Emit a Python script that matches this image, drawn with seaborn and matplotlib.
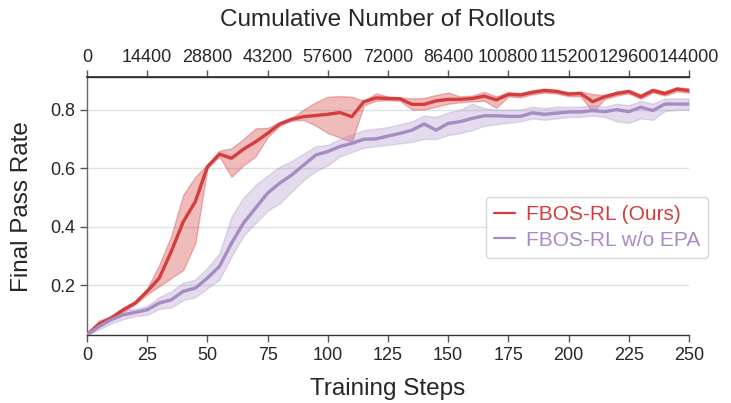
import numpy as np
import pandas as pd
import matplotlib
matplotlib.use("Agg")
import matplotlib.pyplot as plt
import seaborn as sns

steps = list(range(0, 251, 5))

ours_mean = [0.032, 0.069, 0.089, 0.117, 0.140, 0.180, 0.225, 0.316, 0.418, 0.486,
             0.605, 0.648, 0.634, 0.665, 0.690, 0.719, 0.751, 0.767, 0.776, 0.780,
             0.784, 0.790, 0.776, 0.827, 0.840, 0.838, 0.837, 0.818, 0.818, 0.830,
             0.835, 0.835, 0.838, 0.846, 0.833, 0.852, 0.850, 0.859, 0.865, 0.862,
             0.853, 0.855, 0.827, 0.844, 0.855, 0.862, 0.844, 0.865, 0.855, 0.870,
             0.865]
ours_lo = [0.030, 0.060, 0.085, 0.110, 0.135, 0.170, 0.197, 0.225, 0.253, 0.344,
           0.600, 0.640, 0.571, 0.610, 0.640, 0.706, 0.745, 0.762, 0.765, 0.745,
           0.720, 0.705, 0.690, 0.815, 0.830, 0.832, 0.830, 0.800, 0.800, 0.810,
           0.820, 0.825, 0.828, 0.830, 0.806, 0.845, 0.842, 0.852, 0.858, 0.855,
           0.846, 0.845, 0.793, 0.836, 0.848, 0.855, 0.837, 0.858, 0.848, 0.862,
           0.858]
ours_hi = [0.035, 0.080, 0.095, 0.120, 0.145, 0.190, 0.270, 0.370, 0.510, 0.571,
           0.612, 0.660, 0.668, 0.700, 0.736, 0.738, 0.757, 0.772, 0.800, 0.825,
           0.844, 0.846, 0.844, 0.830, 0.855, 0.845, 0.842, 0.838, 0.840, 0.850,
           0.858, 0.845, 0.848, 0.860, 0.845, 0.860, 0.857, 0.866, 0.872, 0.868,
           0.860, 0.862, 0.853, 0.850, 0.862, 0.868, 0.852, 0.872, 0.862, 0.877,
           0.872]

noepa_mean = [0.032, 0.060, 0.083, 0.100, 0.108, 0.117, 0.140, 0.151, 0.180, 0.191,
              0.225, 0.265, 0.344, 0.413, 0.464, 0.515, 0.549, 0.577, 0.611, 0.645,
              0.657, 0.674, 0.685, 0.699, 0.700, 0.710, 0.719, 0.730, 0.751, 0.730,
              0.753, 0.759, 0.770, 0.779, 0.779, 0.777, 0.777, 0.789, 0.784, 0.788,
              0.792, 0.792, 0.797, 0.793, 0.800, 0.793, 0.808, 0.797, 0.819, 0.819,
              0.819]
noepa_lo = [0.030, 0.050, 0.070, 0.085, 0.095, 0.100, 0.120, 0.125, 0.150, 0.160,
            0.190, 0.220, 0.299, 0.370, 0.413, 0.455, 0.480, 0.520, 0.560, 0.590,
            0.610, 0.640, 0.655, 0.670, 0.675, 0.680, 0.685, 0.690, 0.700, 0.700,
            0.713, 0.720, 0.730, 0.745, 0.750, 0.755, 0.760, 0.770, 0.765, 0.770,
            0.775, 0.775, 0.780, 0.775, 0.760, 0.755, 0.770, 0.765, 0.795, 0.800,
            0.799]
noepa_hi = [0.035, 0.070, 0.095, 0.115, 0.120, 0.130, 0.160, 0.180, 0.210, 0.220,
            0.260, 0.310, 0.435, 0.500, 0.543, 0.575, 0.605, 0.625, 0.650, 0.675,
            0.680, 0.700, 0.715, 0.730, 0.735, 0.740, 0.750, 0.760, 0.780, 0.775,
            0.790, 0.800, 0.820, 0.805, 0.800, 0.800, 0.800, 0.810, 0.805, 0.810,
            0.810, 0.810, 0.815, 0.810, 0.820, 0.815, 0.830, 0.820, 0.838, 0.838,
            0.838]

methods = ["FBOS-RL (Ours)", "FBOS-RL w/o EPA"]
colors = ["#d43d3d", "#a68bc4"]
rollouts_per_step = 576
x_ticks = [0, 25, 50, 75, 100, 125, 150, 175, 200, 225, 250]
y_ticks = [0.2, 0.4, 0.6, 0.8]

sns.set_theme(style="ticks")
plt.rcParams["font.family"] = ["Liberation Sans", "DejaVu Sans"]
plt.rcParams["text.color"] = "#262626"
plt.rcParams["axes.labelcolor"] = "#262626"
plt.rcParams["xtick.color"] = "#262626"
plt.rcParams["ytick.color"] = "#262626"

df = pd.concat([
    pd.DataFrame({"step": steps, "rate": ours_mean, "method": methods[0]}),
    pd.DataFrame({"step": steps, "rate": noepa_mean, "method": methods[1]}),
])

fig = plt.figure(figsize=(7.31, 4.03), dpi=100)
ax = fig.add_axes([0.119, 0.168, 0.8235, 0.640])

ax.fill_between(steps, ours_lo, ours_hi, color=colors[0], alpha=0.35,
                linewidth=1.0, zorder=2)
ax.fill_between(steps, noepa_lo, noepa_hi, color=colors[1], alpha=0.30,
                linewidth=1.0, zorder=2)
sns.lineplot(data=df, x="step", y="rate", hue="method", palette=colors,
             linewidth=2.4, ax=ax, zorder=3, legend=False)

ax.set_xlim(0, 250)
ax.set_ylim(0.03, 0.91)
ax.set_xticks(x_ticks)
ax.set_yticks(y_ticks)
ax.set_yticklabels([f"{v:.1f}" for v in y_ticks])
ax.tick_params(axis="both", labelsize=13, length=5, width=1.0,
               color="#555555")
ax.grid(axis="y", color="#dde3e3", linewidth=1.0, zorder=0)
ax.set_axisbelow(True)
ax.set_xlabel("Training Steps", fontsize=17.5, labelpad=10)
ax.set_ylabel("Final Pass Rate", fontsize=17.5, labelpad=12)

for side in ["left", "bottom", "top"]:
    ax.spines[side].set_visible(True)
    ax.spines[side].set_color("#333333")
    ax.spines[side].set_linewidth(1.0)
ax.spines["left"].set_color("#666666")
ax.spines["right"].set_visible(False)

top = ax.secondary_xaxis("top", functions=(lambda s: s * rollouts_per_step,
                                            lambda r: r / rollouts_per_step))
top.set_xticks([t * rollouts_per_step for t in x_ticks])
top.set_xticklabels([str(t * rollouts_per_step) for t in x_ticks])
top.tick_params(labelsize=13, length=5, width=1.0, color="#555555")
top.spines["top"].set_color("#333333")
top.set_xlabel("Cumulative Number of Rollouts", fontsize=17.5, labelpad=16)

handles = [plt.Line2D([], [], color=c, linewidth=1.6) for c in colors]
leg = ax.legend(handles, methods, loc="center right",
                bbox_to_anchor=(1.032, 0.418), borderaxespad=0, fontsize=15,
                handlelength=1.0, handletextpad=0.5, frameon=True,
                fancybox=True, borderpad=0.4, labelspacing=0.3)
leg.get_frame().set_edgecolor("#cccccc")
leg.get_frame().set_linewidth(1.0)
for txt, c in zip(leg.get_texts(), colors):
    txt.set_color(c)

fig.savefig("out.png", dpi=100)
